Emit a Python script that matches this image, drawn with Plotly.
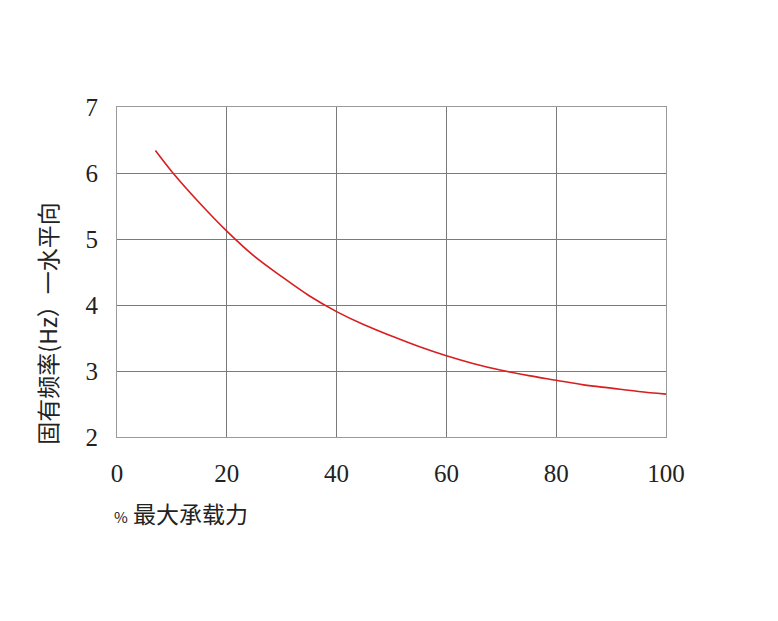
import plotly.graph_objects as go

load_pct = [7, 10, 15, 20, 25, 30, 35, 40, 45, 50, 55, 60, 65, 70, 75, 80, 85, 90, 95, 100]
freq_hz = [6.34, 6.02, 5.55, 5.12, 4.74, 4.43, 4.14, 3.90, 3.70, 3.53, 3.37, 3.23, 3.11, 3.01, 2.93, 2.86, 2.79, 2.74, 2.69, 2.65]

x_ticks = [0, 20, 40, 60, 80, 100]
y_ticks = [2, 3, 4, 5, 6, 7]

serif = "Liberation Serif, DejaVu Serif, serif"
cjk = "Noto Sans CJK SC, Noto Sans CJK JP, sans-serif"

fig = go.Figure()
fig.add_trace(go.Scatter(
    x=load_pct, y=freq_hz, mode="lines",
    line=dict(color="#d81e1e", width=1.6, shape="spline"),
    showlegend=False, hoverinfo="skip",
))

fig.update_layout(
    width=778, height=621,
    paper_bgcolor="white", plot_bgcolor="white",
    margin=dict(l=109, r=120, t=99, b=192),
    xaxis=dict(
        range=[0, 100], tickvals=x_ticks, ticktext=[str(v) for v in x_ticks],
        showgrid=True, gridcolor="#7a7a7a", gridwidth=1,
        showline=True, linecolor="#9a9a9a", linewidth=1, mirror=True,
        ticks="outside", ticklen=14, tickcolor="rgba(0,0,0,0)",
        tickfont=dict(family=serif, size=25, color="#222"),
        zeroline=False, fixedrange=True,
    ),
    yaxis=dict(
        range=[2, 7], tickvals=y_ticks, ticktext=[str(v) for v in y_ticks],
        showgrid=True, gridcolor="#7a7a7a", gridwidth=1,
        showline=True, linecolor="#9a9a9a", linewidth=1, mirror=True,
        ticks="outside", ticklen=13, tickcolor="rgba(0,0,0,0)",
        tickfont=dict(family=serif, size=25, color="#222"),
        zeroline=False, fixedrange=True,
    ),
    annotations=[
        dict(text="<span style='font-size:15px'>%</span> 最大承载力", xref="paper", yref="paper",
             x=-0.01, y=-0.23, xanchor="left", yanchor="middle", showarrow=False,
             font=dict(family=cjk, size=23, color="#222")),
        dict(text="固有频率(Hz）一水平向", xref="paper", yref="paper",
             x=-0.128, y=-0.03, xanchor="center", yanchor="bottom", showarrow=False,
             textangle=-90, font=dict(family=cjk, size=23, color="#222")),
    ],
)

fig.write_html("out.html")
